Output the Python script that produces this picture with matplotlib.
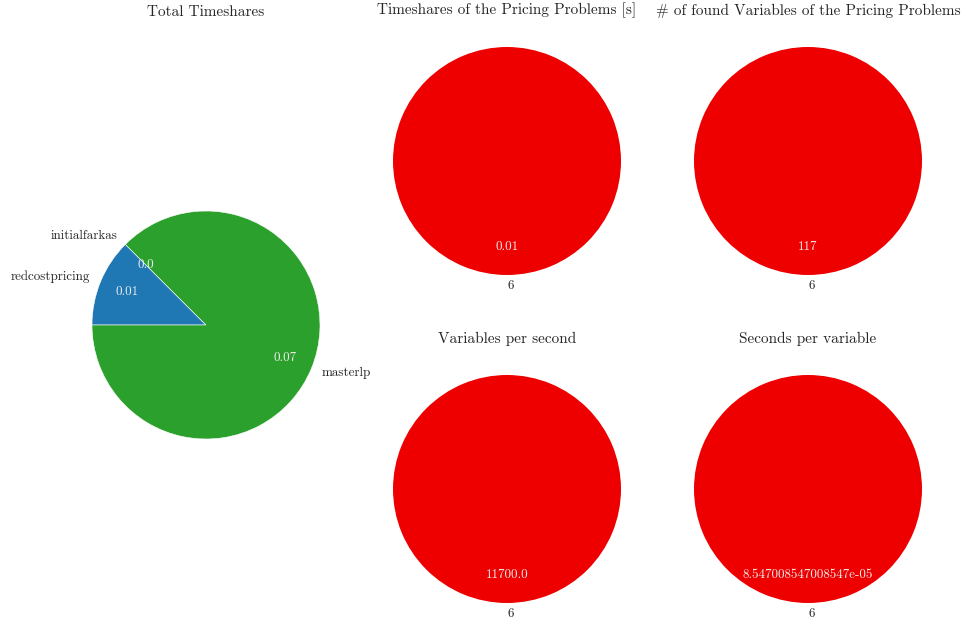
import matplotlib
matplotlib.use('Agg')
import matplotlib.pyplot as plt

plt.rcParams['font.family'] = 'serif'
plt.rcParams['font.serif'] = ['cmr10', 'DejaVu Serif']
plt.rcParams['mathtext.fontset'] = 'cm'
plt.rcParams['text.color'] = '#262626'

# Total Timeshares
total_labels = ['redcostpricing', 'initialfarkas', 'masterlp']
total_values = [0.01, 0.0, 0.07]

# Pricing problems (one problem: "6")
pricing_labels = ['6']
pricing_times = [0.01]
pricing_vars = [117]
vars_per_sec = [11700.0]
sec_per_var = [8.547008547008547e-05]

red = '#ee0000'
fs_title = 11
fs_text = 9.4

fig = plt.figure(figsize=(9.63, 6.23), dpi=100)

def mk_ax(cx, cy, top=None):
    # axes 285 px wide centred on pixel (cx, cy); optionally stretched up to 'top'
    w = 285 / 963
    if top is None:
        top = cy - 142.5
    bottom = cy + (cy - top)
    return fig.add_axes([(cx - 142.5) / 963, (623 - bottom) / 623,
                         w, (bottom - top) / 623])

def autopct_from(values):
    it = iter(values)
    return lambda p: str(next(it))

ax = mk_ax(206, 325, top=18.5)
wedges, texts, autotexts = ax.pie(total_values, labels=total_labels,
                                  startangle=180, counterclock=False,
                                  autopct=autopct_from(total_values),
                                  pctdistance=0.75,
                                  wedgeprops=dict(edgecolor='white', linewidth=0.4),
                                  textprops=dict(fontsize=fs_text))
ax.set_aspect('equal', adjustable='datalim')
for t in autotexts:
    t.set_color('#eeeeee')
ax.set_title('Total Timeshares', fontsize=fs_title, pad=-2.8)

small = [
    (507, 161, pricing_times, 'Timeshares of the Pricing Problems [s]'),
    (808, 161, pricing_vars, '# of found Variables of the Pricing Problems'),
    (507, 489, vars_per_sec, 'Variables per second'),
    (808, 489, sec_per_var, 'Seconds per variable'),
]
for cx, cy, vals, title in small:
    ax = mk_ax(cx, cy)
    wedges, texts, autotexts = ax.pie(vals, labels=pricing_labels, colors=[red],
                                      startangle=90,
                                      autopct=autopct_from(vals),
                                      pctdistance=0.75,
                                      textprops=dict(fontsize=fs_text))
    for t in autotexts:
        t.set_color('#eeeeee')
    ax.set_title(title, fontsize=fs_title, pad=-2.8)

fig.savefig('out.png', dpi=100)
